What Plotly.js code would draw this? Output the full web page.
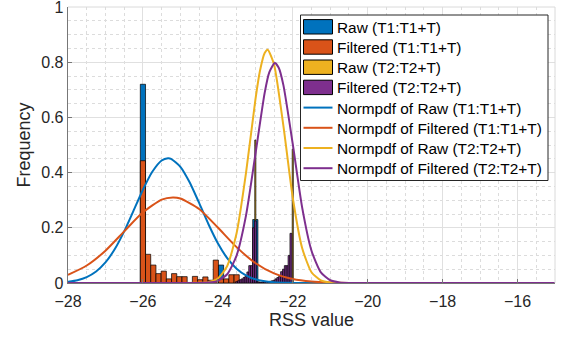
<!DOCTYPE html>
<html>
<head>
<meta charset="utf-8">
<script src="https://cdn.plot.ly/plotly-3.0.1.min.js"></script>
<style>html,body{margin:0;padding:0;background:#fff;}#chart{width:561px;height:339px;}</style>
</head>
<body>
<div id="chart"></div>
<script>
// ---- Histogram data (bin centres and probabilities) ----
const rawT1X = [-26.0, -23.915, -23.0];
const rawT1Y = [0.72, 0.065, 0.23];

const filtT1X = [-26.0, -25.861, -25.722, -25.583, -25.444, -25.305, -25.166, -25.027, -24.888, -24.749,
                 -24.61, -24.471, -24.332, -24.193, -24.054, -23.915, -23.776, -23.637, -23.498];
const filtT1Y = [0.443, 0.104, 0.065, 0.034, 0.043, 0.015, 0.034, 0.023, 0.023, 0.0,
                 0.024, 0.012, 0.022, 0.010, 0.083, 0.015, 0.015, 0.030, 0.030];

const rawT2X = [-23.0, -22.0];
const rawT2Y = [0.518, 0.485];

const filtT2X = [-23.5, -23.45, -23.4, -23.35, -23.3, -23.25, -23.2, -23.15, -23.1, -23.05, -23.0,
                 -22.95, -22.9, -22.85, -22.8, -22.75, -22.7, -22.65, -22.6, -22.55, -22.5,
                 -22.45, -22.4, -22.35, -22.3, -22.25, -22.2, -22.15, -22.1, -22.05];
const filtT2Y = [0.005, 0.008, 0.012, 0.015, 0.020, 0.025, 0.040, 0.063, 0.063, 0.200, 0.225,
                 0.004, 0.004, 0.003, 0.004, 0.004, 0.005, 0.004, 0.006, 0.008, 0.010,
                 0.015, 0.020, 0.025, 0.041, 0.050, 0.063, 0.063, 0.100, 0.180];

// ---- Normpdf curves ----
const pdfRawT1X = [-28, -27.75, -27.5, -27.25, -27, -26.75, -26.5, -26.25, -26, -25.75, -25.5, -25.33,
                   -25.25, -25, -24.75, -24.5, -24.25, -24, -23.75, -23.5, -23.25, -23, -22.5, -22, -21, -15];
const pdfRawT1Y = [0.0045, 0.0103, 0.0216, 0.0418, 0.0747, 0.123, 0.187, 0.262, 0.338, 0.403, 0.444, 0.452,
                   0.450, 0.421, 0.364, 0.290, 0.213, 0.144, 0.090, 0.052, 0.0277, 0.0136, 0.0026, 0.0004, 0, 0];

const pdfFiltT1X = [-28, -27.5, -27, -26.5, -26, -25.5, -25.2, -25, -24.5, -24, -23.5, -23, -22.5, -22,
                    -21.5, -21, -20.5, -20, -15];
const pdfFiltT1Y = [0.0294, 0.0633, 0.117, 0.187, 0.256, 0.302, 0.310, 0.306, 0.268, 0.201, 0.130, 0.0725,
                    0.0347, 0.0143, 0.0051, 0.0016, 0.0004, 0.0001, 0];

const pdfRawT2X = [-28, -25, -24.5, -24.25, -24, -23.75, -23.5, -23.25, -23, -22.875, -22.75, -22.67,
                   -22.5, -22.25, -22, -21.75, -21.5, -21.25, -21, -20.5, -15];
const pdfRawT2Y = [0, 0, 0.0005, 0.0031, 0.016, 0.0617, 0.180, 0.397, 0.662, 0.769, 0.833, 0.845,
                   0.792, 0.569, 0.309, 0.127, 0.039, 0.0092, 0.0016, 0, 0];

const pdfFiltT2X = [-28, -25, -24.5, -24.25, -24, -23.75, -23.5, -23.25, -23, -22.75, -22.625, -22.48,
                    -22.375, -22.25, -22, -21.75, -21.5, -21.25, -21, -20.75, -20.5, -15];
const pdfFiltT2Y = [0, 0, 0.0002, 0.0015, 0.0079, 0.0317, 0.0995, 0.243, 0.464, 0.689, 0.764, 0.797,
                    0.780, 0.717, 0.503, 0.274, 0.117, 0.0386, 0.0100, 0.002, 0.0003, 0];

const names = ['Raw (T1:T1+T)', 'Filtered (T1:T1+T)', 'Raw (T2:T2+T)', 'Filtered (T2:T2+T)',
               'Normpdf of Raw (T1:T1+T)', 'Normpdf of Filtered (T1:T1+T)',
               'Normpdf of Raw (T2:T2+T)', 'Normpdf of Filtered (T2:T2+T)'];
const colors = ['#0072BD', '#D95319', '#EDB120', '#7E2F8E'];

function bar(x, y, i, w) {
  return {type: 'bar', x: x, y: y, width: w, name: names[i], showlegend: false,
          marker: {color: colors[i], line: {color: '#000', width: 0.7}}};
}
function curve(x, y, i) {
  return {type: 'scatter', mode: 'lines', x: x, y: y, name: names[i + 4], showlegend: false,
          line: {color: colors[i], width: 2, shape: 'spline', smoothing: 0.6}};
}

const data = [
  bar(rawT1X, rawT1Y, 0, 0.139),
  bar(filtT1X, filtT1Y, 1, 0.139),
  bar(rawT2X, rawT2Y, 2, 0.03),
  bar(filtT2X, filtT2Y, 3, 0.05),
  curve(pdfRawT1X, pdfRawT1Y, 0),
  curve(pdfFiltT1X, pdfFiltT1Y, 1),
  curve(pdfRawT2X, pdfRawT2Y, 2),
  curve(pdfFiltT2X, pdfFiltT2Y, 3)
];

// ---- Legend drawn in pixel space of the figure ----
const W = 561, H = 339, L = 68, R = 6, T = 7, B = 56;
const pw = W - L - R, ph = H - T - B;
const px = v => (v - L) / pw;
const py = v => (H - B - v) / ph;

const fontFam = '"Liberation Sans", Arial, Helvetica, sans-serif';
const shapes = [
  {type: 'line', xref: 'paper', yref: 'paper', x0: 0, x1: 1, y0: 1, y1: 1, line: {color: '#dadada', width: 1}},
  {type: 'line', xref: 'paper', yref: 'paper', x0: 1, x1: 1, y0: 0, y1: 1, line: {color: '#dadada', width: 1}},
  {type: 'rect', xref: 'paper', yref: 'paper', x0: px(300.5), x1: px(548), y0: py(15), y1: py(180.5),
   fillcolor: '#fff', line: {color: '#262626', width: 1}, layer: 'above'}
];
const annotations = [];
const rowY0 = 26.8, rowStep = 20.2;
names.forEach((nm, i) => {
  const cy = rowY0 + i * rowStep;
  const c = colors[i % 4];
  if (i < 4) {
    shapes.push({type: 'rect', xref: 'paper', yref: 'paper', x0: px(303.5), x1: px(332.5),
                 y0: py(cy - 7.2), y1: py(cy + 7.2), fillcolor: c, line: {color: '#000', width: 1}, layer: 'above'});
  } else {
    shapes.push({type: 'line', xref: 'paper', yref: 'paper', x0: px(303.5), x1: px(332.5),
                 y0: py(cy), y1: py(cy), line: {color: c, width: 2}, layer: 'above'});
  }
  annotations.push({xref: 'paper', yref: 'paper', x: px(335), y: py(cy + 0.5), xanchor: 'left', yanchor: 'middle',
                    text: nm, showarrow: false, font: {family: fontFam, size: 15.4, color: '#000'}});
});

const layout = {
  width: W, height: H,
  margin: {l: L, r: R, t: T, b: B},
  paper_bgcolor: '#fff', plot_bgcolor: '#fff',
  barmode: 'overlay', bargap: 0,
  font: {family: fontFam, color: '#262626', size: 16},
  showlegend: false,
  xaxis: {
    range: [-28, -15], tickvals: [-28, -26, -24, -22, -20, -18, -16],
    ticks: 'inside', ticklen: 4, tickcolor: '#777',
    showline: true, linecolor: '#777', linewidth: 1,
    showgrid: true, gridcolor: '#e0e0e0', gridwidth: 1, zeroline: false,
    minor: {dtick: 0.5, showgrid: true, gridcolor: '#dcdcdc', griddash: 'dot', gridwidth: 1},
    title: {text: 'RSS value', font: {size: 18, color: '#262626'}, standoff: 4},
    tickfont: {size: 16, color: '#262626'}, ticklabelstandoff: 4
  },
  yaxis: {
    range: [0, 1], tickvals: [0, 0.2, 0.4, 0.6, 0.8, 1],
    ticktext: ['0', '0.2', '0.4', '0.6', '0.8', '1'],
    ticks: 'inside', ticklen: 4, tickcolor: '#777',
    showline: true, linecolor: '#777', linewidth: 1.3,
    showgrid: true, gridcolor: '#e0e0e0', gridwidth: 1, zeroline: false,
    minor: {dtick: 0.05, showgrid: true, gridcolor: '#dcdcdc', griddash: 'dot', gridwidth: 1},
    title: {text: 'Frequency', font: {size: 18, color: '#262626'}, standoff: 6},
    tickfont: {size: 16, color: '#262626'}, ticklabeloverflow: 'allow'
  },
  shapes: shapes,
  annotations: annotations
};

Plotly.newPlot('chart', data, layout, {staticPlot: true, displayModeBar: false});
</script>
</body>
</html>
